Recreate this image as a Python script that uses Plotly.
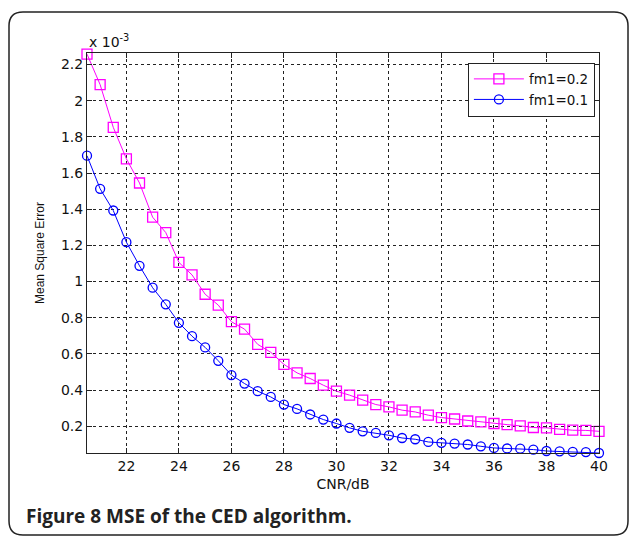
import plotly.graph_objects as go

# CNR in dB
cnr = [20.5 + 0.5 * i for i in range(40)]

# Mean square error (x 1e-3)
mse_fm02 = [2.258, 2.089, 1.853, 1.679, 1.545, 1.356, 1.271, 1.106, 1.037, 0.930,
            0.870, 0.778, 0.737, 0.653, 0.609, 0.542, 0.495, 0.464, 0.427, 0.394,
            0.372, 0.344, 0.320, 0.307, 0.289, 0.279, 0.261, 0.248, 0.240, 0.229,
            0.224, 0.215, 0.209, 0.202, 0.193, 0.191, 0.183, 0.178, 0.177, 0.172]
mse_fm01 = [1.696, 1.513, 1.393, 1.218, 1.087, 0.966, 0.874, 0.772, 0.698, 0.636,
            0.562, 0.483, 0.436, 0.394, 0.362, 0.320, 0.296, 0.265, 0.237, 0.215,
            0.191, 0.172, 0.163, 0.150, 0.135, 0.128, 0.113, 0.108, 0.104, 0.099,
            0.089, 0.080, 0.077, 0.076, 0.071, 0.063, 0.061, 0.058, 0.057, 0.052]

x_ticks = [22, 24, 26, 28, 30, 32, 34, 36, 38, 40]
y_ticks = [0.2, 0.4, 0.6, 0.8, 1.0, 1.2, 1.4, 1.6, 1.8, 2.0, 2.2]
y_tick_text = ["0.2", "0.4", "0.6", "0.8", "1", "1.2", "1.4", "1.6", "1.8", "2", "2.2"]

W, H = 629, 536
ML, MR, MT, MB = 87, 30, 53, 83

fig = go.Figure()
fig.add_trace(go.Scatter(
    x=cnr, y=mse_fm02, mode="lines+markers", name="fm1=0.2", cliponaxis=False,
    line=dict(color="#ff00ff", width=1),
    marker=dict(symbol="square-open", size=10, color="#ff00ff", line=dict(width=1.3)),
))
fig.add_trace(go.Scatter(
    x=cnr, y=mse_fm01, mode="lines+markers", name="fm1=0.1", cliponaxis=False,
    line=dict(color="#0000ff", width=1),
    marker=dict(symbol="circle-open", size=9, color="#0000ff", line=dict(width=1.3)),
))

ymin = min(mse_fm01)
ymax = max(mse_fm02) + 0.006

tick_font = dict(family="DejaVu Sans, sans-serif", size=14, color="#111")
fig.update_xaxes(
    range=[cnr[0], cnr[-1]], tickvals=x_ticks, ticks="inside", ticklen=5,
    tickcolor="#222", showline=True, linecolor="#222", linewidth=1, mirror="ticks",
    showgrid=True, gridcolor="#222", griddash="3px,3px", gridwidth=1,
    zeroline=False, tickfont=tick_font,
    title=dict(text="CNR/dB", font=tick_font, standoff=6),
)
fig.update_yaxes(
    range=[ymin, ymax], tickvals=y_ticks, ticktext=y_tick_text, ticks="inside", ticklen=5,
    tickcolor="#222", showline=True, linecolor="#222", linewidth=1, mirror="ticks",
    showgrid=True, gridcolor="#222", griddash="3px,3px", gridwidth=1,
    zeroline=False, tickfont=tick_font,
    title=dict(text="Mean Square Error",
               font=dict(family="Liberation Sans, Arial, sans-serif", size=12, color="#111"),
               standoff=13),
)

pw = W - ML - MR
ph = H - MT - MB
def px(xp):
    return (xp - ML) / pw
def py(yp):
    return 1 - (yp - MT) / ph

# rounded outer frame
x0, y0, x1, y1, r = 9, 12, 628, 535, 14
path = (f"M {px(x0 + r)} {py(y0)} L {px(x1 - r)} {py(y0)} "
        f"Q {px(x1)} {py(y0)} {px(x1)} {py(y0 + r)} L {px(x1)} {py(y1 - r)} "
        f"Q {px(x1)} {py(y1)} {px(x1 - r)} {py(y1)} L {px(x0 + r)} {py(y1)} "
        f"Q {px(x0)} {py(y1)} {px(x0)} {py(y1 - r)} L {px(x0)} {py(y0 + r)} "
        f"Q {px(x0)} {py(y0)} {px(x0 + r)} {py(y0)} Z")
fig.add_shape(type="path", path=path, xref="paper", yref="paper",
              line=dict(color="#222", width=1.5), layer="below")

fig.add_annotation(text="x 10<sup>-3</sup>", xref="paper", yref="paper",
                   x=0, y=1, xanchor="left", yanchor="bottom", yshift=1, showarrow=False,
                   font=tick_font)
fig.add_annotation(text="<b>Figure 8 MSE of the CED algorithm.</b>", xref="paper", yref="paper",
                   x=px(24), y=py(516), xanchor="left", yanchor="middle", showarrow=False,
                   font=dict(family="Open Sans, sans-serif", size=19, color="#222"))

fig.update_layout(
    width=W, height=H, margin=dict(l=ML, r=MR, t=MT, b=MB),
    paper_bgcolor="white", plot_bgcolor="white", showlegend=True,
    legend=dict(x=0.992, y=0.976, xanchor="right", yanchor="top",
                bordercolor="#222", borderwidth=1, bgcolor="white",
                font=dict(family="DejaVu Sans, sans-serif", size=13.5, color="#111"),
                tracegroupgap=0, itemwidth=50),
)

fig.write_html("out.html", config={"displayModeBar": False},
               post_script="document.body.style.margin='0px';")
